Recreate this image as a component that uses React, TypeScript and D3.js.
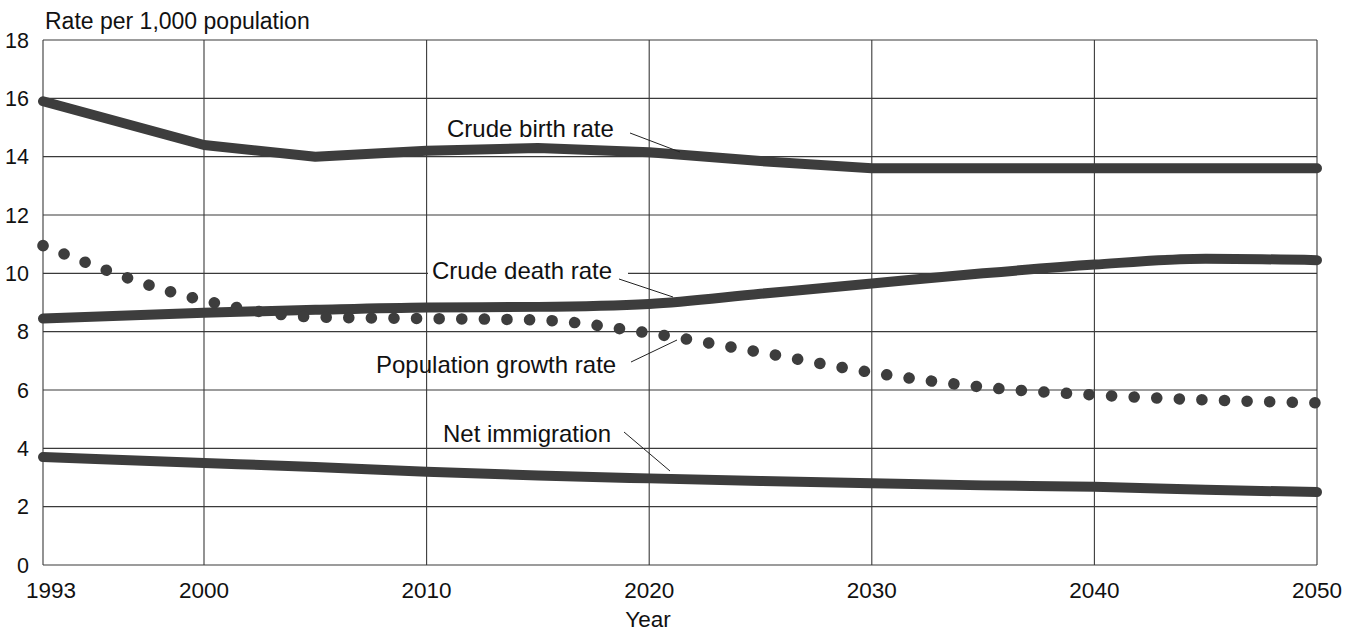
import React from "react";
import * as d3 from "d3";

const years = [1993, 2000, 2005, 2010, 2015, 2020, 2025, 2030, 2035, 2040, 2045, 2050];
const birthRate = [15.9, 14.4, 14.0, 14.2, 14.3, 14.15, 13.85, 13.6, 13.6, 13.6, 13.6, 13.6];
const deathRate = [8.45, 8.65, 8.75, 8.83, 8.85, 8.95, 9.3, 9.65, 10.0, 10.3, 10.5, 10.45];
const growthRate = [10.95, 9.07, 8.5, 8.45, 8.4, 7.95, 7.29, 6.6, 6.1, 5.83, 5.66, 5.56];
const netImmigration = [3.7, 3.5, 3.36, 3.2, 3.07, 2.97, 2.88, 2.8, 2.73, 2.68, 2.58, 2.5];

const xTicks = [1993, 2000, 2010, 2020, 2030, 2040, 2050];
const yTicks = [0, 2, 4, 6, 8, 10, 12, 14, 16, 18];

const title = "Rate per 1,000 population";
const xTitle = "Year";

export default function App() {
  const x = d3.scaleLinear().domain([1993, 2000, 2050]).range([43, 204, 1317]);
  const y = d3.scaleLinear().domain([0, 18]).range([565, 40]);

  const mk = (vals: number[], curve: d3.CurveFactory) =>
    d3
      .line<number>()
      .x((_, i) => x(years[i]))
      .y((v) => y(v))
      .curve(curve)(vals) as string;

  const ink = "#3d3d3d";
  const grid = "#3a3a3a";
  const font = "Liberation Sans, Arial, sans-serif";

  return (
    <svg
      width={1359}
      height={632}
      style={{ position: "absolute", left: 0, top: 0, background: "#fff" }}
      fontFamily={font}
    >
      <rect width={1359} height={632} fill="#fff" />
      {/* grid */}
      {yTicks.map((t) => (
        <line key={"gy" + t} x1={x(1993)} x2={x(2050)} y1={y(t)} y2={y(t)} stroke={grid} strokeWidth={1.1} />
      ))}
      {xTicks.map((t) => (
        <line key={"gx" + t} x1={x(t)} x2={x(t)} y1={y(0)} y2={y(18)} stroke={grid} strokeWidth={1.1} />
      ))}
      {/* break behind death label */}
      <rect x={428} y={y(10) - 3} width={200} height={6} fill="#fff" />

      {/* y labels */}
      {yTicks.map((t) => (
        <text key={"ly" + t} x={29} y={y(t)} dy="0.36em" textAnchor="end" fontSize={21.5} fill="#111">
          {t}
        </text>
      ))}
      {/* x labels */}
      {xTicks.map((t, i) => (
        <text key={"lx" + t} x={x(t) + (i === 0 ? 8 : 0)} y={598} textAnchor="middle" fontSize={22.5} fill="#111">
          {t}
        </text>
      ))}
      <text x={648} y={627} textAnchor="middle" fontSize={22.5} fill="#111">
        {xTitle}
      </text>
      <text x={45} y={29} fontSize={23} fill="#111">
        {title}
      </text>

      {/* series */}
      <path d={mk(birthRate, d3.curveLinear)} fill="none" stroke={ink} strokeWidth={10} strokeLinecap="round" strokeLinejoin="round" />
      <path d={mk(deathRate, d3.curveMonotoneX)} fill="none" stroke={ink} strokeWidth={10} strokeLinecap="round" strokeLinejoin="round" />
      <path d={mk(netImmigration, d3.curveMonotoneX)} fill="none" stroke={ink} strokeWidth={10} strokeLinecap="round" strokeLinejoin="round" />
      <path
        d={mk(growthRate, d3.curveMonotoneX)}
        fill="none"
        stroke={ink}
        strokeWidth={11.5}
        strokeLinecap="round"
        strokeDasharray="0.1 22.5"
      />

      {/* annotations */}
      <g fontSize={24} fill="#111">
        <text x={447} y={137}>Crude birth rate</text>
        <line x1={630} y1={133} x2={680} y2={152} stroke="#222" strokeWidth={1} />
        <text x={432} y={279}>Crude death rate</text>
        <line x1={619} y1={279} x2={673} y2={297} stroke="#222" strokeWidth={1} />
        <text x={376} y={373}>Population growth rate</text>
        <line x1={631} y1={362} x2={677} y2={340} stroke="#222" strokeWidth={1} />
        <text x={443} y={442}>Net immigration</text>
        <line x1={624} y1={432} x2={670} y2={471} stroke="#222" strokeWidth={1} />
      </g>
    </svg>
  );
}
